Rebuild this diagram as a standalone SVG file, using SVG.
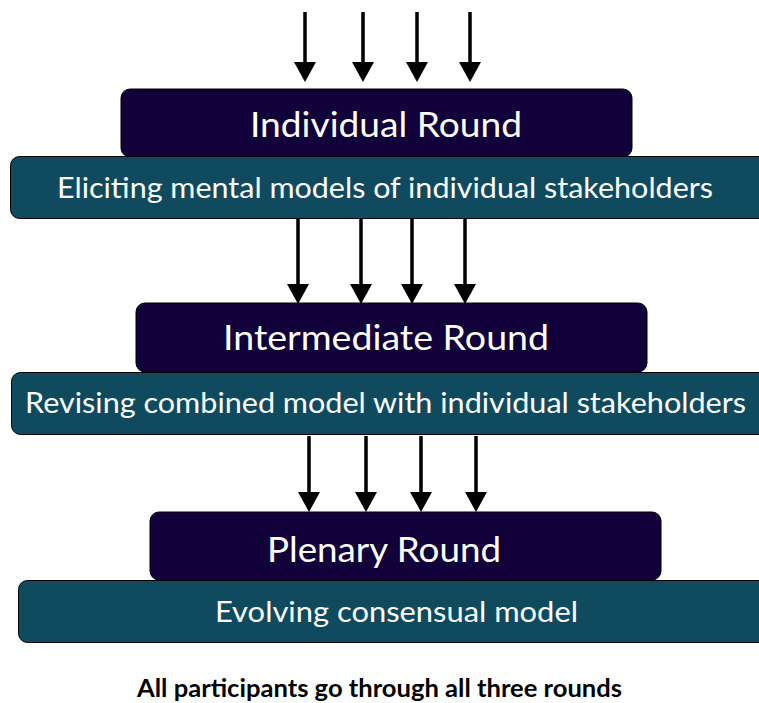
<svg xmlns="http://www.w3.org/2000/svg" width="759" height="703" viewBox="0 0 759 703">
<style>
.dark{fill:#12003a;stroke:#000;stroke-width:1}
.teal{fill:#0f4a5f;stroke:#000;stroke-width:1}
.t1{font-family:Lato,"Liberation Sans",sans-serif;fill:#fff;font-size:34px;text-anchor:middle}
.t2{font-family:Lato,"Liberation Sans",sans-serif;fill:#fff;font-size:29px;text-anchor:middle}
.cap{font-family:Lato,"Liberation Sans",sans-serif;fill:#000;font-size:25px;font-weight:bold;text-anchor:middle}
.ar{stroke:#000;stroke-width:3.5;fill:none}
</style>
<g id="connectors">
<path class="ar" d="M305,12V64"/><path d="M294,62L305,82L316,62Z"/>
<path class="ar" d="M363,12V64"/><path d="M352,62L363,82L374,62Z"/>
<path class="ar" d="M417,12V64"/><path d="M406,62L417,82L428,62Z"/>
<path class="ar" d="M470,12V64"/><path d="M459,62L470,82L481,62Z"/>
<path class="ar" d="M298,219V286"/><path d="M287,284L298,304L309,284Z"/>
<path class="ar" d="M361,219V286"/><path d="M350,284L361,304L372,284Z"/>
<path class="ar" d="M412,219V286"/><path d="M401,284L412,304L423,284Z"/>
<path class="ar" d="M465,219V286"/><path d="M454,284L465,304L476,284Z"/>
<path class="ar" d="M309,436V494"/><path d="M298,492L309,512L320,492Z"/>
<path class="ar" d="M366,436V494"/><path d="M355,492L366,512L377,492Z"/>
<path class="ar" d="M421,436V494"/><path d="M410,492L421,512L432,492Z"/>
<path class="ar" d="M476,436V494"/><path d="M465,492L476,512L487,492Z"/>
</g>
<g id="individual-round">
<rect class="dark" x="121" y="89" width="511" height="68" rx="9"/>
<text class="t1" x="386" y="137" textLength="272" lengthAdjust="spacingAndGlyphs">Individual Round</text>
</g>
<g id="individual-desc">
<rect class="teal" x="10.5" y="156.5" width="760" height="62" rx="9"/>
<text class="t2" x="385" y="198" textLength="656" lengthAdjust="spacingAndGlyphs">Eliciting mental models of individual stakeholders</text>
</g>
<g id="intermediate-round">
<rect class="dark" x="136" y="303" width="511" height="69" rx="9"/>
<text class="t1" x="386" y="350" textLength="326" lengthAdjust="spacingAndGlyphs">Intermediate Round</text>
</g>
<g id="intermediate-desc">
<rect class="teal" x="11.5" y="372.5" width="760" height="62" rx="9"/>
<text class="t2" x="385.5" y="413" textLength="721" lengthAdjust="spacingAndGlyphs">Revising combined model with individual stakeholders</text>
</g>
<g id="plenary-round">
<rect class="dark" x="150" y="512" width="511" height="68" rx="9"/>
<text class="t1" x="384" y="562" textLength="234" lengthAdjust="spacingAndGlyphs">Plenary Round</text>
</g>
<g id="plenary-desc">
<rect class="teal" x="18.5" y="580.5" width="760" height="62" rx="9"/>
<text class="t2" x="396.5" y="622" textLength="363" lengthAdjust="spacingAndGlyphs">Evolving consensual model</text>
</g>
<text class="cap" x="379.5" y="697" textLength="485" lengthAdjust="spacingAndGlyphs">All participants go through all three rounds</text>
</svg>
